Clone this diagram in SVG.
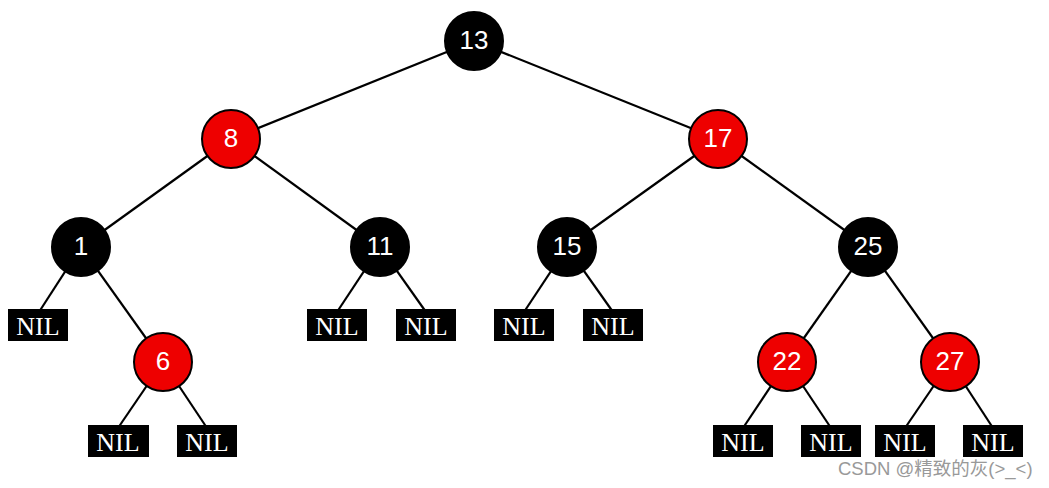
<svg xmlns="http://www.w3.org/2000/svg" width="1049" height="488" viewBox="0 0 1049 488">
<style>
.edge{stroke:#000;stroke-width:2.2;fill:none}
.blk{fill:#000;stroke:#000;stroke-width:2}
.red{fill:#ee0000;stroke:#000;stroke-width:2}
.num{fill:#fff;font-family:"Liberation Sans",Arial,sans-serif;font-size:26px;text-anchor:middle;dominant-baseline:central}
.nilbox{fill:#000}
.nil{fill:#fff;font-family:"Liberation Serif","Times New Roman",serif;font-size:26px;text-anchor:middle;dominant-baseline:central}
.wm{fill:#999;font-family:"Liberation Sans","Noto Sans CJK SC",sans-serif;font-size:18.5px}
</style>
<rect width="1049" height="488" fill="#fff"/>
<g id="connectors">
<line class="edge" x1="474" y1="41" x2="231" y2="139"/>
<line class="edge" x1="474" y1="41" x2="718" y2="139"/>
<line class="edge" x1="231" y1="139" x2="81" y2="247"/>
<line class="edge" x1="231" y1="139" x2="380" y2="247"/>
<line class="edge" x1="718" y1="139" x2="567" y2="247"/>
<line class="edge" x1="718" y1="139" x2="868" y2="247"/>
<line class="edge" x1="81" y1="247" x2="39" y2="312"/>
<line class="edge" x1="81" y1="247" x2="163" y2="362"/>
<line class="edge" x1="380" y1="247" x2="337" y2="312"/>
<line class="edge" x1="380" y1="247" x2="426" y2="312"/>
<line class="edge" x1="567" y1="247" x2="524" y2="312"/>
<line class="edge" x1="567" y1="247" x2="613" y2="312"/>
<line class="edge" x1="868" y1="247" x2="787" y2="362"/>
<line class="edge" x1="868" y1="247" x2="950" y2="362"/>
<line class="edge" x1="163" y1="362" x2="118" y2="428"/>
<line class="edge" x1="163" y1="362" x2="207" y2="428"/>
<line class="edge" x1="787" y1="362" x2="743" y2="428"/>
<line class="edge" x1="787" y1="362" x2="831" y2="428"/>
<line class="edge" x1="950" y1="362" x2="905" y2="428"/>
<line class="edge" x1="950" y1="362" x2="993" y2="428"/>
</g>
<g id="n13"><circle class="blk" cx="474" cy="41" r="29"/><text class="num" x="474" y="40">13</text></g>
<g id="n8"><circle class="red" cx="231" cy="139" r="29"/><text class="num" x="231" y="138">8</text></g>
<g id="n17"><circle class="red" cx="718" cy="139" r="29"/><text class="num" x="718" y="138">17</text></g>
<g id="n1"><circle class="blk" cx="81" cy="247" r="29"/><text class="num" x="81" y="246">1</text></g>
<g id="n11"><circle class="blk" cx="380" cy="247" r="29"/><text class="num" x="380" y="246">11</text></g>
<g id="n15"><circle class="blk" cx="567" cy="247" r="29"/><text class="num" x="567" y="246">15</text></g>
<g id="n25"><circle class="blk" cx="868" cy="247" r="29"/><text class="num" x="868" y="246">25</text></g>
<g id="n6"><circle class="red" cx="163" cy="362" r="29"/><text class="num" x="163" y="361">6</text></g>
<g id="n22"><circle class="red" cx="787" cy="362" r="29"/><text class="num" x="787" y="361">22</text></g>
<g id="n27"><circle class="red" cx="950" cy="362" r="29"/><text class="num" x="950" y="361">27</text></g>
<g id="nil1"><rect class="nilbox" x="8" y="309" width="60" height="32"/><text class="nil" x="38" y="326">NIL</text></g>
<g id="nil2"><rect class="nilbox" x="307" y="309" width="60" height="32"/><text class="nil" x="337" y="326">NIL</text></g>
<g id="nil3"><rect class="nilbox" x="396" y="309" width="60" height="32"/><text class="nil" x="426" y="326">NIL</text></g>
<g id="nil4"><rect class="nilbox" x="494" y="309" width="60" height="32"/><text class="nil" x="524" y="326">NIL</text></g>
<g id="nil5"><rect class="nilbox" x="583" y="309" width="60" height="32"/><text class="nil" x="613" y="326">NIL</text></g>
<g id="nil6"><rect class="nilbox" x="88" y="425" width="61" height="32"/><text class="nil" x="118" y="442">NIL</text></g>
<g id="nil7"><rect class="nilbox" x="177" y="425" width="60" height="32"/><text class="nil" x="207" y="442">NIL</text></g>
<g id="nil8"><rect class="nilbox" x="713" y="425" width="60" height="32"/><text class="nil" x="743" y="442">NIL</text></g>
<g id="nil9"><rect class="nilbox" x="801" y="425" width="60" height="32"/><text class="nil" x="831" y="442">NIL</text></g>
<g id="nil10"><rect class="nilbox" x="875" y="425" width="60" height="32"/><text class="nil" x="905" y="442">NIL</text></g>
<g id="nil11"><rect class="nilbox" x="963" y="425" width="60" height="32"/><text class="nil" x="993" y="442">NIL</text></g>
<text class="wm" x="838" y="475">CSDN @精致的灰(&gt;_&lt;)</text>
</svg>
